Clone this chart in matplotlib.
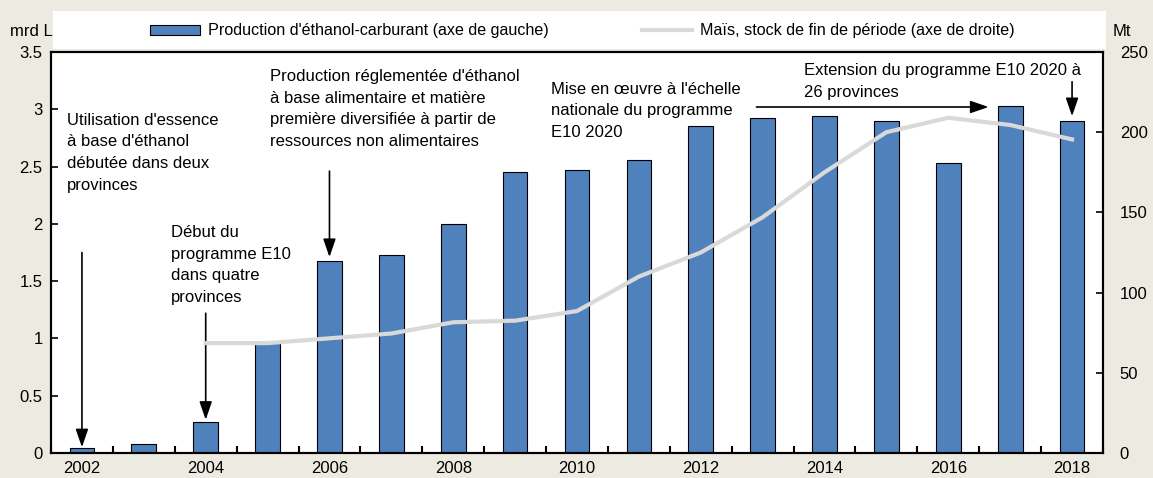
import matplotlib.pyplot as plt
from matplotlib.patches import Rectangle
import numpy as np

plt.rcParams['font.family'] = ['Liberation Sans Narrow', 'Liberation Sans', 'DejaVu Sans']

# Données
annees = np.arange(2002, 2019)
ethanol = [0.04, 0.08, 0.27, 0.97, 1.68, 1.73, 2.00, 2.45, 2.47, 2.56, 2.85, 2.92, 2.94, 2.90, 2.53, 3.03, 2.90]
annees_mais = np.arange(2004, 2019)
mais = [68.5, 68.5, 71.5, 74.5, 81.5, 82.5, 88.5, 110, 125, 147, 175, 200, 209, 204.5, 195.5]

bg = '#ECEAE1'
fig = plt.figure(figsize=(11.53, 4.78), dpi=100, facecolor=bg)
ax = fig.add_axes([51/1153, 1 - 453/478, (1103 - 51)/1153, (453 - 52)/478])
ax.set_facecolor('white')

ax.bar(annees, ethanol, width=0.4, color='#4F81BD', edgecolor='black', linewidth=0.8,
       zorder=2, label="Production d'éthanol-carburant (axe de gauche)")
ax.set_xlim(2001.5, 2018.5)
ax.set_ylim(0, 3.5)
ax.set_yticks(np.arange(0, 3.51, 0.5))
ax.set_yticklabels(['0', '0.5', '1', '1.5', '2', '2.5', '3', '3.5'])
ax.set_xticks(np.arange(2002, 2019, 2))
ax.set_xticks(np.arange(2001.5, 2019, 1), minor=True)
ax.tick_params(axis='x', which='major', length=0, pad=6, labelsize=12)
ax.tick_params(axis='x', which='minor', direction='in', length=5, width=1.5)
ax.tick_params(axis='y', direction='in', length=5, width=1.2, labelsize=12, pad=6)
for s in ax.spines.values():
    s.set_linewidth(1.5)

ax2 = ax.twinx()
ax2.plot(annees_mais, mais, color='#D9D9D9', linewidth=3, zorder=3,
         label='Maïs, stock de fin de période (axe de droite)')
ax2.set_ylim(0, 250)
ax2.set_yticks(np.arange(0, 251, 50))
ax2.tick_params(axis='y', direction='in', length=5, width=1.2, labelsize=12, pad=12)
for s in ax2.spines.values():
    s.set_linewidth(1.5)

# Annotations
fs = 12
ls = 1.55
ax.text(2001.76, 2.97, "Utilisation d'essence\nà base d'éthanol\ndébutée dans deux\nprovinces",
        fontsize=fs, va='top', ha='left', linespacing=ls)
ax.text(2005.04, 3.35, "Production réglementée d'éthanol\nà base alimentaire et matière\npremière diversifiée à partir de\nressources non alimentaires",
        fontsize=fs, va='top', ha='left', linespacing=ls)
ax.text(2003.44, 1.99, "Début du\nprogramme E10\ndans quatre\nprovinces",
        fontsize=fs, va='top', ha='left', linespacing=ls)
ax.text(2009.58, 3.24, "Mise en œuvre à l'échelle\nnationale du programme\nE10 2020",
        fontsize=fs, va='top', ha='left', linespacing=ls)
ax.text(2013.67, 3.40, "Extension du programme E10 2020 à\n26 provinces",
        fontsize=fs, va='top', ha='left', linespacing=ls)

fleche = dict(arrowstyle='-|>,head_length=1.1,head_width=0.38', color='black', lw=1.2,
              shrinkA=0, shrinkB=0)
ax.annotate('', xy=(2002, 0.05), xytext=(2002, 1.75), arrowprops=fleche, zorder=4)
ax.annotate('', xy=(2004, 0.29), xytext=(2004, 1.22), arrowprops=fleche, zorder=4)
ax.annotate('', xy=(2006, 1.71), xytext=(2006, 2.46), arrowprops=fleche, zorder=4)
ax.annotate('', xy=(2016.65, 3.02), xytext=(2012.9, 3.02), arrowprops=fleche, zorder=4)
ax.annotate('', xy=(2018, 2.94), xytext=(2018, 3.24), arrowprops=fleche, zorder=4)

# Légende
fig.patches.append(Rectangle((53/1153, 1 - 49/478), (1106 - 53)/1153, 38/478,
                             transform=fig.transFigure, facecolor='white',
                             edgecolor='none', zorder=0))
h1, l1 = ax.get_legend_handles_labels()
h2, l2 = ax2.get_legend_handles_labels()
fig.legend(h1 + h2, l1 + l2, loc='center', bbox_to_anchor=(582/1153, 1 - 31/478),
           ncol=2, frameon=False, fontsize=11.6, handlelength=3.1, handleheight=0.6,
           handletextpad=0.5, columnspacing=5.8)

fig.text(10/1153, 1 - 31/478, 'mrd L', fontsize=12, va='center', ha='left')
fig.text(1113/1153, 1 - 31/478, 'Mt', fontsize=12, va='center', ha='left')

fig.savefig('out.png', dpi=100, facecolor=bg)
